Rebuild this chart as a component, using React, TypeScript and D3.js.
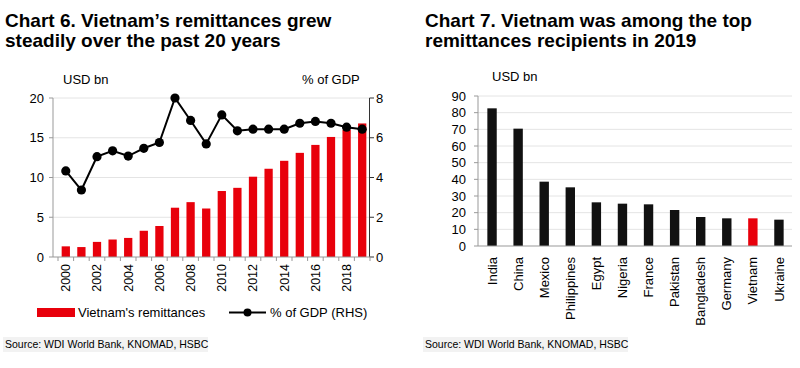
import React from 'react';
import * as d3 from 'd3';

const years = d3.range(2000, 2020).map(String);
const remittances = [1.34, 1.25, 1.9, 2.2, 2.4, 3.3, 3.9, 6.2, 6.9, 6.1, 8.3, 8.7, 10.1, 11.1, 12.1, 13.1, 14.1, 15.1, 16.0, 16.8];
const pctGdp = [4.33, 3.37, 5.05, 5.34, 5.08, 5.47, 5.76, 8.0, 6.87, 5.69, 7.15, 6.35, 6.43, 6.43, 6.43, 6.73, 6.82, 6.73, 6.53, 6.43];
const leftTicks = [0, 5, 10, 15, 20];
const rightTicks = [0, 2, 4, 6, 8];

const countries = ['India', 'China', 'Mexico', 'Philippines', 'Egypt', 'Nigeria', 'France', 'Pakistan', 'Bangladesh', 'Germany', 'Vietnam', 'Ukraine'];
const received2019 = [82.6, 70.4, 38.6, 35.2, 26.2, 25.4, 25.0, 21.6, 17.4, 16.6, 16.6, 15.8];
const countryTicks = d3.range(0, 100, 10);

const FONT = '"Liberation Sans", Arial, Helvetica, sans-serif';
const RED = '#e8000b';

const Chart6 = () => {
  const x = d3.scaleBand().domain(years).range([58, 370]).paddingInner(0.47).paddingOuter(0.235);
  const y = d3.scaleLinear().domain([0, 20]).range([257, 98]);
  const y2 = d3.scaleLinear().domain([0, 8]).range([257, 98]);
  const cx = (yr: string) => (x(yr) as number) + x.bandwidth() / 2;
  const line = d3.line<number>().x((_, i) => cx(years[i])).y(d => y2(d));
  const step = x.step();

  return (
    <g>
      <text x={5} y={27} fontSize={19} fontWeight="bold">Chart 6. Vietnam’s remittances grew</text>
      <text x={5} y={47} fontSize={19} fontWeight="bold">steadily over the past 20 years</text>
      <text x={63} y={84} fontSize={13}>USD bn</text>
      <text x={302} y={84} fontSize={13}>% of GDP</text>

      {leftTicks.filter(t => t > 0).map(t => (
        <line key={t} x1={53} x2={369} y1={y(t)} y2={y(t)} stroke="#e4e4e4" />
      ))}

      {remittances.map((v, i) => (
        <rect key={years[i]} x={x(years[i])} y={y(v)} width={x.bandwidth()} height={y(0) - y(v)} fill={RED} />
      ))}

      {/* left axis */}
      <line x1={53} x2={53} y1={98} y2={257} stroke="#999" />
      {leftTicks.map(t => (
        <g key={t}>
          <line x1={49} x2={53} y1={y(t)} y2={y(t)} stroke="#999" />
          <text x={44} y={y(t)} dy="0.35em" textAnchor="end" fontSize={13}>{t}</text>
        </g>
      ))}

      {/* right axis */}
      <line x1={369.5} x2={369.5} y1={98} y2={257} stroke="#333" />
      {rightTicks.map(t => (
        <g key={t}>
          <line x1={369.5} x2={374} y1={y2(t)} y2={y2(t)} stroke="#333" />
          <text x={376} y={y2(t)} dy="0.35em" fontSize={13}>{t}</text>
        </g>
      ))}

      {/* x axis */}
      <line x1={53} x2={370} y1={257} y2={257} stroke="#999" />
      {d3.range(years.length + 1).map(i => (
        <line key={i} x1={58 + i * step} x2={58 + i * step} y1={257} y2={261} stroke="#999" />
      ))}
      {years.filter((_, i) => i % 2 === 0).map(yr => (
        <text key={yr} transform={`translate(${cx(yr)},264) rotate(-90)`} textAnchor="end" dy="0.35em" fontSize={12.5}>{yr}</text>
      ))}

      <path d={line(pctGdp) || ''} fill="none" stroke="#000" strokeWidth={2} />
      {pctGdp.map((v, i) => (
        <circle key={years[i]} cx={cx(years[i])} cy={y2(v)} r={4.6} fill="#000" />
      ))}

      {/* legend */}
      <rect x={37} y={308} width={38} height={9} fill={RED} />
      <text x={78} y={312.5} dy="0.35em" fontSize={13}>Vietnam's remittances</text>
      <line x1={229} x2={266} y1={312.5} y2={312.5} stroke="#000" strokeWidth={2} />
      <circle cx={247.5} cy={312.5} r={4} fill="#000" />
      <text x={270} y={312.5} dy="0.35em" fontSize={13}>% of GDP (RHS)</text>

      <rect x={3} y={337} width={205} height={15} fill="#f2f2f2" />
      <text x={5} y={344.5} dy="0.35em" fontSize={10.5}>Source: WDI World Bank, KNOMAD, HSBC</text>
    </g>
  );
};

const Chart7 = () => {
  const x = d3.scaleBand().domain(countries).range([479, 792]).paddingInner(0.64).paddingOuter(0.32);
  const y = d3.scaleLinear().domain([0, 90]).range([246, 96]);
  const cx = (c: string) => (x(c) as number) + x.bandwidth() / 2;

  return (
    <g>
      <text x={425} y={27} fontSize={19} fontWeight="bold">Chart 7. Vietnam was among the top</text>
      <text x={425} y={47} fontSize={19} fontWeight="bold">remittances recipients in 2019</text>
      <text x={492} y={81} fontSize={13}>USD bn</text>

      {countryTicks.filter(t => t > 0).map(t => (
        <line key={t} x1={478} x2={792} y1={y(t)} y2={y(t)} stroke="#e4e4e4" />
      ))}

      {received2019.map((v, i) => (
        <rect key={countries[i]} x={x(countries[i])} y={y(v)} width={x.bandwidth()} height={y(0) - y(v)}
          fill={countries[i] === 'Vietnam' ? RED : '#111'} />
      ))}

      <line x1={478} x2={478} y1={96} y2={246} stroke="#999" />
      {countryTicks.map(t => (
        <g key={t}>
          <line x1={474} x2={478} y1={y(t)} y2={y(t)} stroke="#999" />
          <text x={466} y={y(t)} dy="0.35em" textAnchor="end" fontSize={13}>{t}</text>
        </g>
      ))}
      <line x1={478} x2={792} y1={246} y2={246} stroke="#999" />

      {countries.map(c => (
        <text key={c} transform={`translate(${cx(c)},257) rotate(-90)`} textAnchor="end" dy="0.35em" fontSize={13}>{c}</text>
      ))}

      <rect x={423} y={337} width={205} height={15} fill="#f2f2f2" />
      <text x={425} y={344.5} dy="0.35em" fontSize={10.5}>Source: WDI World Bank, KNOMAD, HSBC</text>
    </g>
  );
};

export default function App() {
  return (
    <svg width={800} height={368} style={{ position: 'absolute', left: 0, top: 0, background: '#fff' }}
      fontFamily={FONT} fill="#000">
      <Chart6 />
      <Chart7 />
    </svg>
  );
}
